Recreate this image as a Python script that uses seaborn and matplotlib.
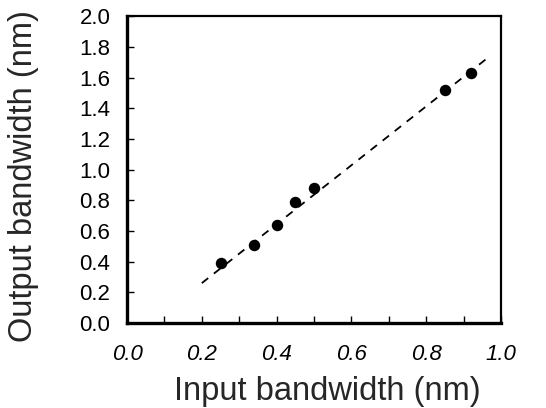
import matplotlib
matplotlib.use("Agg")
import matplotlib.pyplot as plt
from matplotlib.ticker import MultipleLocator
import numpy as np
import pandas as pd
import seaborn as sns

# Dati
input_bw = [0.25, 0.34, 0.40, 0.45, 0.50, 0.85, 0.92]
output_bw = [0.39, 0.51, 0.64, 0.79, 0.88, 1.52, 1.63]

# Retta di fit (estremi della linea tratteggiata)
fit_x = [0.20, 0.96]
fit_y = [0.26, 1.72]

df = pd.DataFrame({"input": input_bw, "output": output_bw})
fit = pd.DataFrame({"x": fit_x, "y": fit_y})

sns.set_theme(style="ticks")
plt.rcParams['font.family'] = ['Liberation Sans', 'DejaVu Sans']

fig = plt.figure(figsize=(5.46, 4.08), dpi=100)
ax = fig.add_axes([0.2326, 0.2083, 0.685, 0.752])

sns.lineplot(data=fit, x="x", y="y", ax=ax, color="black", linewidth=1.3,
             dashes=False)
ax.lines[0].set_dashes((4.5, 4))
sns.scatterplot(data=df, x="input", y="output", ax=ax, color="black",
                s=68, edgecolor="black", linewidth=0, zorder=3)

ax.set_xlim(0, 1.0)
ax.set_ylim(0, 2.0)
ax.xaxis.set_major_locator(MultipleLocator(0.2))
ax.xaxis.set_minor_locator(MultipleLocator(0.1))
ax.yaxis.set_major_locator(MultipleLocator(0.2))

ax.tick_params(axis="x", which="both", direction="in", length=5, width=1.0,
               pad=15, labelsize=16, colors="black")
ax.tick_params(axis="y", which="major", direction="in", length=5, width=1.0,
               pad=12, labelsize=16, colors="black")
for lab in ax.get_xticklabels():
    lab.set_fontstyle("italic")

for side in ["left", "bottom"]:
    ax.spines[side].set_linewidth(2.4)
for side in ["top", "right"]:
    ax.spines[side].set_linewidth(1.6)
    ax.spines[side].set_visible(True)
for sp in ax.spines.values():
    sp.set_color("black")

ax.set_xlabel("Input bandwidth (nm)", fontsize=23.5)
ax.set_ylabel("Output bandwidth (nm)", fontsize=23.5)
ax.xaxis.set_label_coords(0.535, -0.172)
ax.yaxis.set_label_coords(-0.235, 0.48)

fig.savefig("out.png", dpi=100)
